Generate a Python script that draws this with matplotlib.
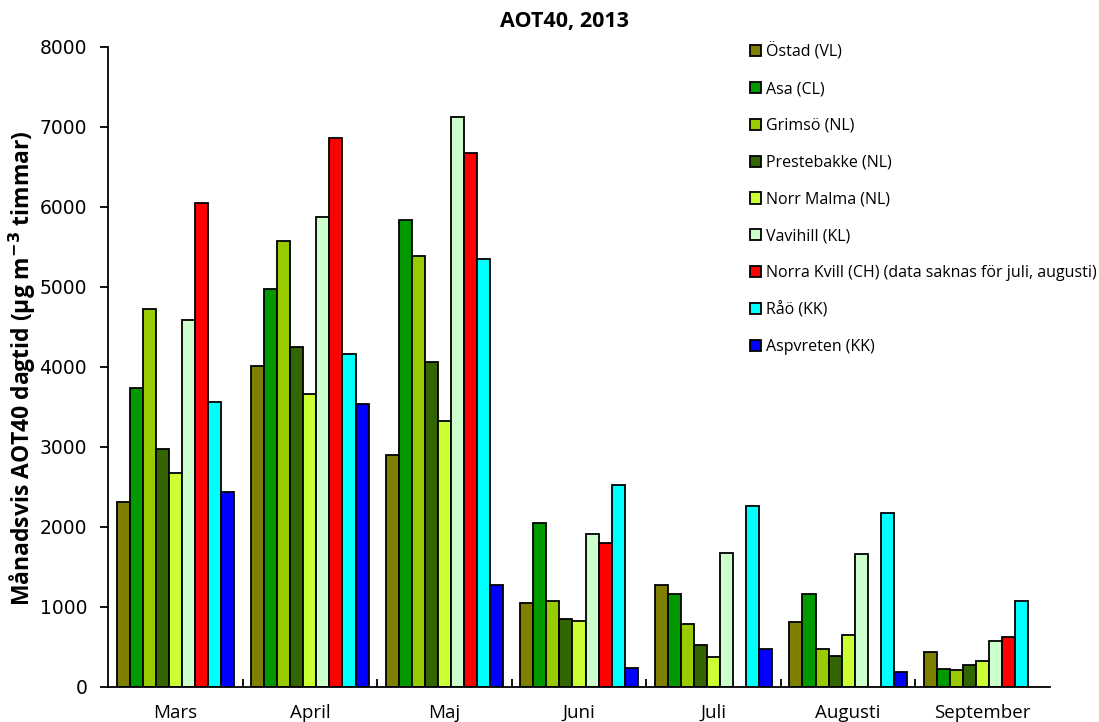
import numpy as np
import matplotlib
matplotlib.use("Agg")
import matplotlib.pyplot as plt

months = ["Mars", "April", "Maj", "Juni", "Juli", "Augusti", "September"]
stations = ["Östad (VL)", "Asa (CL)", "Grimsö (NL)", "Prestebakke (NL)", "Norr Malma (NL)",
            "Vavihill (KL)", "Norra Kvill (CH) (data saknas för juli, augusti)", "Råö (KK)",
            "Aspvreten (KK)"]
colors = ["#808000", "#009900", "#99CC00", "#336600", "#CCFF33", "#CCFFCC", "#FF0000",
          "#00FFFF", "#0000FF"]

ostad = [2310, 4010, 2900, 1050, 1280, 810, 440]
asa = [3740, 4970, 5840, 2050, 1160, 1160, 230]
grimso = [4730, 5570, 5390, 1080, 790, 470, 210]
prestebakke = [2970, 4250, 4060, 850, 520, 390, 270]
norr_malma = [2670, 3660, 3330, 820, 380, 650, 320]
vavihill = [4590, 5880, 7120, 1910, 1680, 1660, 570]
norra_kvill = [6050, 6860, 6680, 1800, np.nan, np.nan, 630]
rao = [3560, 4160, 5350, 2520, 2260, 2170, 1080]
aspvreten = [2440, 3540, 1280, 240, 470, 190, np.nan]

series = [ostad, asa, grimso, prestebakke, norr_malma, vavihill, norra_kvill, rao, aspvreten]

W, H = 1099, 722
fig = plt.figure(figsize=(W / 100, H / 100), dpi=100)
ax = fig.add_axes([108 / W, 1 - 687 / H, (1050 - 108) / W, (687 - 47) / H])

n = len(series)
bw = 0.097
x = np.arange(len(months))
handles = []
for i, (vals, c, lab) in enumerate(zip(series, colors, stations)):
    pos = x + (i - (n - 1) / 2) * bw
    b = ax.bar(pos, vals, width=bw, color=c, edgecolor="black", linewidth=1.3, label=lab)
    handles.append(b)

ax.set_xlim(-0.5, len(months) - 0.5)
ax.set_ylim(0, 8000)
ax.set_yticks(np.arange(0, 8001, 1000))
ax.tick_params(axis="y", direction="out", length=6, width=1.3, labelsize=13.5, pad=9)
for t in ax.get_yticklabels():
    t.set_family("DejaVu Sans")

ax.set_xticks(np.arange(0.5, len(months) - 0.5, 1))
ax.set_xticklabels([])
ax.tick_params(axis="x", which="major", direction="in", length=6, width=1.3)
ax.set_xticks(x, minor=True)
ax.set_xticklabels(months, minor=True, fontsize=13.5, family="Open Sans")
ax.tick_params(axis="x", which="minor", length=0, pad=12)

for s in ["top", "right"]:
    ax.spines[s].set_visible(False)
for s in ["left", "bottom"]:
    ax.spines[s].set_linewidth(1.3)

fig.text(22 / W, 1 - 368 / H, "Månadsvis AOT40 dagtid (µg m$^{\\mathbf{-3}}$ timmar)",
         rotation=90, ha="center", va="center", fontsize=16.5, fontweight="bold", family="Open Sans")
fig.text(564 / W, 1 - 22 / H, "AOT40, 2013", ha="center", va="center", fontsize=15.5,
         fontweight="bold", family="Open Sans")

leg = fig.legend(handles=handles, loc="upper left", bbox_to_anchor=(750 / W, 1 - 43 / H),
                 frameon=False, prop={"family": "Open Sans", "size": 11.5},
                 handlelength=0.7, handleheight=0.7, handletextpad=0.3,
                 labelspacing=1.3, borderaxespad=0, borderpad=0)

fig.savefig("out.png", dpi=100)
